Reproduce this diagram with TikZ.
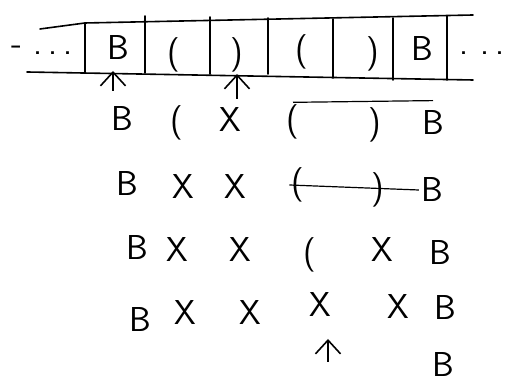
\documentclass[tikz,border=0pt]{standalone}
\usetikzlibrary{arrows.meta}
\tikzset{
  tape/.style={thick, line cap=round},
  sym/.style={font=\sffamily\LARGE, inner sep=1pt},
  head/.style={-{Straight Barb[length=2.4mm,width=4.4mm]}, thick},
  strk/.style={semithick},
}

\begin{document}
\begin{tikzpicture}[x=0.5pt,y=-0.5pt]
  \useasboundingbox (0,0) rectangle (509,383);
  % --- tape ---
  \draw[tape] (40,29) -- (85,23) -- (473,15);
  \draw[tape] (27,72) -- (473,80);
  \foreach \xx/\ya/\yb in {85/23/72,145/16/73,210/17/74,268/18/74,333/19/78,393/18/80,447/16/80}{
    \draw[tape] (\xx,\ya) -- (\xx,\yb);
  }
  \foreach \s/\xx/\yy [count=\i] in {B/118/48,{(}/174/55,{)}/237/55,{(}/302/52,{)}/373/54,B/422/49}{
    \node[sym] (c\i) at (\xx,\yy) {\s};
  }
  \node[sym] (lft) at (42,50) {- .\,.\,.};
  \node[sym] (rgt) at (482,53) {.\,\,.\,.};
  % --- head positions ---
  \coordinate (h1a) at (113,91);
  \coordinate (h1b) at (113,71);
  \coordinate (h2a) at (237,99);
  \coordinate (h2b) at (237,74);
  \draw[head] (h1a) -- (h1b);
  \draw[head] (h2a) -- (h2b);
  % --- passes ---
  \foreach \s/\xx/\yy [count=\i] in {B/122/119,{(}/177/123,X/230/120,{(}/293/122,{)}/375/125,B/433/123}{
    \node[sym] (r1\i) at (\xx,\yy) {\s};
  }
  \foreach \s/\xx/\yy [count=\i] in {B/127/184,X/183/187,X/235/187,{(}/298/185,{)}/378/190,B/432/190}{
    \node[sym] (r2\i) at (\xx,\yy) {\s};
  }
  \foreach \s/\xx/\yy [count=\i] in {B/137/248,X/177/250,X/240/250,{(}/310/255,X/382/250,B/440/253}{
    \node[sym] (r3\i) at (\xx,\yy) {\s};
  }
  \foreach \s/\xx/\yy [count=\i] in {B/140/320,X/185/313,X/250/313,X/320/305,X/398/307,B/445/308}{
    \node[sym] (r4\i) at (\xx,\yy) {\s};
  }
  \draw[strk] (r14.north) -- ([yshift=4pt]r16.north);
  \draw[strk] (r24.west) -- (r26.west);
  % --- final ---
  \coordinate (p1) at (328,362);
  \coordinate (p2) at (328,339);
  \draw[head] (p1) -- (p2);
  \node[sym] (fin) at (443,365) {B};
\end{tikzpicture}
\end{document}
